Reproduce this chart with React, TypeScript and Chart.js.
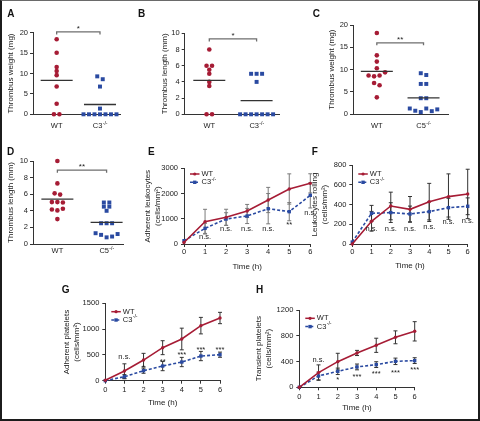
import React, { useEffect, useRef } from 'react';
import { Chart, registerables } from 'chart.js';
Chart.register(...registerables);

const W = 480;
const H = 421;
const FONT = '"Liberation Sans", Arial, Helvetica, sans-serif';
const RED = '#a61c35';
const BLUE = '#2a4aa1';
const AX = '#333333';
const TXT = '#222222';
Chart.defaults.font.family = FONT;
Chart.defaults.color = TXT;

// ---------- group names ----------
const groupWT = 'WT';
const koC3 = 'C3';
const koC5 = 'C5';
const koSup = '-/-';

// ---------- panel A: thrombus weight (mg), WT vs C3-/- ----------
const aWT = [18.4, 15.1, 11.6, 10.6, 9.6, 6.8, 2.6, 0, 0];
const aC3 = [9.3, 8.6, 6.8, 1.4, 0, 0, 0, 0, 0, 0, 0];
const aMeans = [8.3, 2.4];
const aYTicks = [0, 5, 10, 15, 20];

// ---------- panel B: thrombus length (mm), WT vs C3-/- ----------
const bWT = [8, 6, 6, 5.5, 5, 4, 3.5, 0, 0];
const bC3 = [5, 5, 5, 4, 0, 0, 0, 0, 0, 0, 0];
const bMeans = [4.2, 1.7];
const bYTicks = [0, 2, 4, 6, 8, 10];

// ---------- panel C: thrombus weight (mg), WT vs C5-/- ----------
const cWT = [18.2, 13.2, 11.8, 10.3, 8.7, 8.5, 8.7, 9.4, 7.0, 6.5, 3.8];
const cC5 = [9.2, 8.8, 6.8, 6.8, 3.6, 3.6, 1.3, 0.8, 0.5, 1.3, 0.7, 1.1];
const cMeans = [9.6, 3.7];
const cYTicks = [0, 5, 10, 15, 20];

// ---------- panel D: thrombus length (mm), WT vs C5-/- ----------
const dWT = [10, 7.3, 6.1, 5.95, 5.05, 5.05, 5.0, 4.15, 4.05, 4.25, 3.0];
const dC5 = [5, 5, 4.5, 4.5, 4.0, 2.5, 2.5, 2.5, 1.3, 1.1, 0.8, 0.9, 1.2];
const dMeans = [5.4, 2.6];
const dYTicks = [0, 2, 4, 6, 8, 10];

// ---------- time courses ----------
const timeHours = [0, 1, 2, 3, 4, 5, 6];

const eWT = [60, 885, 1057, 1308, 1744, 2180, 2404];
const eC3 = [130, 620, 990, 1110, 1400, 1281, 1929];
const eWTErr = [0, 490, 320, 260, 500, 600, 380];
const eC3Err = [0, 200, 250, 300, 600, 360, 500];
const eSig = ['', 'n.s.', 'n.s.', 'n.s.', 'n.s.', '**', 'n.s.'];
const eSigY = [0, 265, 580, 580, 580, 829, 1224];
const eYTicks = [0, 1000, 2000, 3000];

const fWT = [0, 230, 385, 351, 429, 480, 507];
const fC3 = [20, 311, 318, 304, 328, 368, 382];
const fWTErr = [0, 100, 140, 130, 185, 230, 250];
const fC3Err = [0, 80, 100, 80, 100, 95, 85];
const fSig = ['', 'n.s.', 'n.s.', 'n.s.', 'n.s.', 'n.s.', 'n.s.'];
const fSigY = [0, 149, 149, 149, 175, 223, 236];
const fYTicks = [0, 200, 400, 600, 800];

const gWT = [10, 187, 400, 640, 808, 1067, 1215];
const gC3 = [0, 78, 194, 284, 362, 478, 504];
const gWTErr = [0, 140, 130, 135, 210, 160, 110];
const gC3Err = [0, 40, 50, 90, 90, 90, 50];
const gSig = ['', 'n.s.', '*', '**', '***', '***', '***'];
const gSigY = [0, 465, 290, 415, 543, 640, 640];
const gYTicks = [0, 500, 1000, 1500];

const hWT = [0, 228, 398, 533, 652, 776, 869];
const hC3 = [0, 176, 248, 316, 352, 403, 414];
const hWTErr = [0, 120, 130, 40, 110, 100, 150];
const hC3Err = [0, 60, 50, 45, 45, 50, 45];
const hSig = ['', 'n.s.', '*', '***', '***', '***', '***'];
const hSigY = [0, 424, 155, 202, 242, 264, 300];
const hYTicks = [0, 400, 800, 1200];

// ---------- helpers ----------
function swarm(vals: number[], center: number, step: number, tol: number) {
  const idx = vals.map((_, i) => i).sort((a, b) => vals[b] - vals[a]);
  const pts: { x: number; y: number }[] = new Array(vals.length);
  let i = 0;
  while (i < idx.length) {
    let j = i + 1;
    while (j < idx.length && vals[idx[j - 1]] - vals[idx[j]] <= tol) j++;
    const grp = idx.slice(i, j).sort((a, b) => a - b);
    grp.forEach((k, n) => {
      pts[k] = { x: center + (n - (grp.length - 1) / 2) * step, y: vals[k] };
    });
    i = j;
  }
  return pts;
}

function drawSup(ctx: CanvasRenderingContext2D, base: string, sup: string, x: number, y: number, align: 'left' | 'center', size = 7.5) {
  ctx.font = `${size}px ${FONT}`;
  const wb = ctx.measureText(base).width;
  ctx.font = `${size * 0.68}px ${FONT}`;
  const ws = ctx.measureText(sup).width;
  const x0 = align === 'center' ? x - (wb + ws) / 2 : x;
  ctx.textAlign = 'left';
  ctx.font = `${size}px ${FONT}`;
  ctx.fillText(base, x0, y);
  ctx.font = `${size * 0.68}px ${FONT}`;
  ctx.fillText(sup, x0 + wb + 0.3, y - 3);
}

type Area = { l: number; t: number; r: number; b: number };

type ScatterPanel = {
  wt: number[]; ko: number[]; means: number[]; koName: string; yTicks: number[];
  yTitle: string; sigText: string; sigLevel: number; area: Area; centers: [number, number];
  titleX: number; labelBase: number;
};

type LinePanel = {
  wt: number[]; ko: number[]; wtErr: number[]; koErr: number[]; sig: string[]; sigY: number[];
  yTicks: number[]; yTitle: string[]; area: Area; titleX: number; xTickY: number; xTitleY: number;
  legendY: number; errColor: string;
};

const scatterPanels: ScatterPanel[] = [
  { wt: aWT, ko: aC3, means: aMeans, koName: koC3, yTicks: aYTicks, yTitle: 'Thrombus weight (mg)', sigText: '*', sigLevel: 20.2,
    area: { l: 33, t: 32.7, r: 120, b: 114.3 }, centers: [0.272, 0.77], titleX: 11, labelBase: 128 },
  { wt: bWT, ko: bC3, means: bMeans, koName: koC3, yTicks: bYTicks, yTitle: 'Thrombus length (mm)', sigText: '*', sigLevel: 9.3,
    area: { l: 184.7, t: 33.3, r: 279.3, b: 114.3 }, centers: [0.26, 0.76], titleX: 165, labelBase: 128 },
  { wt: cWT, ko: cC5, means: cMeans, koName: koC5, yTicks: cYTicks, yTitle: 'Thrombus weight (mg)', sigText: '**', sigLevel: 16,
    area: { l: 353, t: 25, r: 448.3, b: 114.3 }, centers: [0.25, 0.74], titleX: 331.5, labelBase: 128 },
  { wt: dWT, ko: dC5, means: dMeans, koName: koC5, yTicks: dYTicks, yTitle: 'Thrombus length (mm)', sigText: '**', sigLevel: 8.9,
    area: { l: 33, t: 161, r: 123.3, b: 244 }, centers: [0.27, 0.815], titleX: 11, labelBase: 252.7 },
];

const linePanels: LinePanel[] = [
  { wt: eWT, ko: eC3, wtErr: eWTErr, koErr: eC3Err, sig: eSig, sigY: eSigY, yTicks: eYTicks,
    yTitle: ['Adherent leukocytes', '(cells/mm²)'], area: { l: 184, t: 168.3, r: 310.3, b: 244 },
    titleX: 148, xTickY: 252.3, xTitleY: 266.7, legendY: 174, errColor: '#7a7a7a' },
  { wt: fWT, ko: fC3, wtErr: fWTErr, koErr: fC3Err, sig: fSig, sigY: fSigY, yTicks: fYTicks,
    yTitle: ['Leukocytes rolling', '(cells/mm²)'], area: { l: 352.3, t: 165, r: 467.7, b: 244 },
    titleX: 314.5, xTickY: 252.3, xTitleY: 266, legendY: 174, errColor: '#333333' },
  { wt: gWT, ko: gC3, wtErr: gWTErr, koErr: gC3Err, sig: gSig, sigY: gSigY, yTicks: gYTicks,
    yTitle: ['Adherent platelets', '(cells/mm²)'], area: { l: 105.3, t: 303.3, r: 220, b: 380.7 },
    titleX: 67, xTickY: 390, xTitleY: 402.3, legendY: 311.7, errColor: '#333333' },
  { wt: hWT, ko: hC3, wtErr: hWTErr, koErr: hC3Err, sig: hSig, sigY: hSigY, yTicks: hYTicks,
    yTitle: ['Transient platelets', '(cells/mm²)'], area: { l: 299.3, t: 310, r: 414.7, b: 387.3 },
    titleX: 258.5, xTickY: 397.3, xTitleY: 407.7, legendY: 318.3, errColor: '#333333' },
];

const letters = [
  { t: 'A', x: 7.3, y: 10 }, { t: 'B', x: 138, y: 10 }, { t: 'C', x: 312.7, y: 10 },
  { t: 'D', x: 7, y: 148 }, { t: 'E', x: 148, y: 148 }, { t: 'F', x: 311.7, y: 148 },
  { t: 'G', x: 61.7, y: 286.7 }, { t: 'H', x: 256, y: 286.7 },
];

function yAxisCommon(ticks: number[], width: number) {
  return {
    min: ticks[0],
    max: ticks[ticks.length - 1],
    afterBuildTicks: (s: any) => { s.ticks = ticks.map((v) => ({ value: v })); },
    ticks: { font: { size: 7.5 }, padding: 2, color: TXT, callback: (v: any) => String(v) },
    grid: { drawOnChartArea: false, drawTicks: true, tickLength: 3, color: AX },
    border: { display: true, color: AX, width: 1 },
    afterFit: (s: any) => { s.width = width; },
  };
}

function makeScatter(canvas: HTMLCanvasElement, p: ScatterPanel) {
  const { l, t, r, b } = p.area;
  const yMax = p.yTicks[p.yTicks.length - 1];
  const unit = 1 / (r - l);
  const step = 5.5 * unit;
  const tol = yMax * 0.04;
  const half = 16 * unit;
  const wtPts = swarm(p.wt, p.centers[0], step, tol);
  const koPts = swarm(p.ko, p.centers[1], step, tol);
  const meanLine = (c: number, m: number) => [{ x: c - half, y: m }, { x: c + half, y: m }];
  const padLeft = p.titleX - 4.8;
  const extras = {
    id: 'scatterExtras',
    afterDraw(chart: any) {
      const ctx = chart.ctx as CanvasRenderingContext2D;
      const xs = chart.scales.x;
      const ys = chart.scales.y;
      const x1 = xs.getPixelForValue(p.centers[0]);
      const x2 = xs.getPixelForValue(p.centers[1]);
      const y = ys.getPixelForValue(p.sigLevel);
      ctx.save();
      ctx.strokeStyle = '#6e6e6e';
      ctx.lineWidth = 1.3;
      ctx.beginPath();
      ctx.moveTo(x1, y + 2.5); ctx.lineTo(x1, y); ctx.lineTo(x2, y); ctx.lineTo(x2, y + 2.5);
      ctx.stroke();
      ctx.fillStyle = TXT;
      ctx.font = `8px ${FONT}`;
      ctx.textAlign = 'center';
      ctx.textBaseline = 'alphabetic';
      ctx.fillText(p.sigText, (x1 + x2) / 2, y - 1);
      ctx.font = `7.5px ${FONT}`;
      ctx.fillText(groupWT, x1, p.labelBase);
      drawSup(ctx, p.koName, koSup, x2, p.labelBase, 'center');
      ctx.restore();
    },
  };
  return new Chart(canvas, {
    type: 'scatter',
    data: {
      datasets: [
        { data: meanLine(p.centers[0], p.means[0]), showLine: true, borderColor: AX, borderWidth: 1.3, pointRadius: 0, clip: false } as any,
        { data: meanLine(p.centers[1], p.means[1]), showLine: true, borderColor: AX, borderWidth: 1.3, pointRadius: 0, clip: false } as any,
        { data: wtPts, pointStyle: 'circle', pointRadius: 2.3, pointBorderWidth: 0, backgroundColor: RED, borderColor: RED, clip: false } as any,
        { data: koPts, pointStyle: 'rect', pointRadius: 2.8, pointBorderWidth: 0, backgroundColor: BLUE, borderColor: BLUE, clip: false } as any,
      ],
    },
    options: {
      animation: false,
      responsive: false,
      devicePixelRatio: 1,
      events: [],
      layout: { padding: { left: padLeft, top: t, right: W - r, bottom: H - b - 20 } },
      plugins: { legend: { display: false }, tooltip: { enabled: false } },
      scales: {
        x: {
          type: 'linear', min: 0, max: 1,
          ticks: { display: false },
          grid: { display: false },
          border: { display: true, color: AX, width: 1 },
          afterFit: (s: any) => { s.height = 20; },
        } as any,
        y: {
          ...yAxisCommon(p.yTicks, l - padLeft),
          title: { display: true, text: p.yTitle, font: { size: 8 }, padding: 0, color: TXT },
        } as any,
      },
    },
    plugins: [extras],
  });
}

function makeLine(canvas: HTMLCanvasElement, p: LinePanel) {
  const { l, t, r, b } = p.area;
  const padLeft = p.titleX - 5;
  const bottomEdge = p.xTitleY + 5;
  const extras = {
    id: 'lineExtras',
    beforeDatasetsDraw(chart: any) {
      const ctx = chart.ctx as CanvasRenderingContext2D;
      const xs = chart.scales.x;
      const ys = chart.scales.y;
      ctx.save();
      ctx.strokeStyle = p.errColor;
      ctx.lineWidth = 1;
      const series: [number[], number[]][] = [[p.wt, p.wtErr], [p.ko, p.koErr]];
      series.forEach(([vals, errs]) => {
        timeHours.forEach((tt, i) => {
          const e = errs[i];
          if (!e) return;
          const x = xs.getPixelForValue(tt);
          const y1 = ys.getPixelForValue(vals[i] + e);
          const y2 = ys.getPixelForValue(vals[i] - e);
          ctx.beginPath();
          ctx.moveTo(x, y1); ctx.lineTo(x, y2);
          ctx.moveTo(x - 2, y1); ctx.lineTo(x + 2, y1);
          ctx.moveTo(x - 2, y2); ctx.lineTo(x + 2, y2);
          ctx.stroke();
        });
      });
      ctx.restore();
    },
    afterDraw(chart: any) {
      const ctx = chart.ctx as CanvasRenderingContext2D;
      const xs = chart.scales.x;
      const ys = chart.scales.y;
      ctx.save();
      ctx.fillStyle = TXT;
      ctx.textAlign = 'center';
      ctx.textBaseline = 'alphabetic';
      ctx.font = `7.5px ${FONT}`;
      p.sig.forEach((s, i) => {
        if (!s) return;
        const star = s.indexOf('*') >= 0;
        const x = xs.getPixelForValue(timeHours[i]);
        const y = ys.getPixelForValue(p.sigY[i]);
        ctx.fillText(s, x, y + (star ? 4.3 : 2.0));
      });
      // legend
      const lx = chart.chartArea.left;
      const rows = [
        { name: groupWT, color: RED, dash: [] as number[], style: 'circle' },
        { name: koC3, color: BLUE, dash: [3, 2], style: 'rect' },
      ];
      rows.forEach((row, i) => {
        const y = p.legendY + i * 8.3;
        ctx.strokeStyle = row.color;
        ctx.fillStyle = row.color;
        ctx.lineWidth = 1.5;
        ctx.setLineDash(row.dash);
        ctx.beginPath();
        ctx.moveTo(lx + 6, y); ctx.lineTo(lx + 15.5, y);
        ctx.stroke();
        ctx.setLineDash([]);
        const mx = lx + 10.75;
        if (row.style === 'circle') {
          ctx.beginPath(); ctx.arc(mx, y, 1.6, 0, Math.PI * 2); ctx.fill();
        } else {
          ctx.fillRect(mx - 1.7, y - 1.7, 3.4, 3.4);
        }
        ctx.fillStyle = TXT;
        ctx.textBaseline = 'middle';
        if (i === 0) {
          ctx.font = `7.5px ${FONT}`;
          ctx.textAlign = 'left';
          ctx.fillText(row.name, lx + 17.5, y);
        } else {
          drawSup(ctx, row.name, koSup, lx + 17.5, y, 'left');
        }
      });
      ctx.restore();
    },
  };
  return new Chart(canvas, {
    type: 'line',
    data: {
      datasets: [
        { data: timeHours.map((x, i) => ({ x, y: p.wt[i] })), borderColor: RED, backgroundColor: RED, borderWidth: 1.6,
          pointStyle: 'circle', pointRadius: 1.7, pointBorderWidth: 0, tension: 0, clip: false } as any,
        { data: timeHours.map((x, i) => ({ x, y: p.ko[i] })), borderColor: BLUE, backgroundColor: BLUE, borderWidth: 1.6,
          borderDash: [3, 2], pointStyle: 'rect', pointRadius: 2.4, pointBorderWidth: 0, tension: 0, clip: false } as any,
      ],
    },
    options: {
      animation: false,
      responsive: false,
      devicePixelRatio: 1,
      events: [],
      layout: { padding: { left: padLeft, top: t, right: W - r, bottom: H - bottomEdge } },
      plugins: { legend: { display: false }, tooltip: { enabled: false } },
      scales: {
        x: {
          type: 'linear', min: 0, max: 6,
          afterBuildTicks: (s: any) => { s.ticks = timeHours.map((v) => ({ value: v })); },
          ticks: { font: { size: 7.5 }, padding: p.xTickY - b - 7.5, color: TXT, maxRotation: 0, autoSkip: false, callback: (v: any) => String(v) },
          grid: { drawOnChartArea: false, drawTicks: true, tickLength: 3, color: AX },
          border: { display: true, color: AX, width: 1 },
          title: { display: true, text: 'Time (h)', font: { size: 8, lineHeight: 1.25 }, padding: 0, color: TXT },
          afterFit: (s: any) => { s.height = bottomEdge - b; },
        } as any,
        y: {
          ...yAxisCommon(p.yTicks, l - padLeft),
          ticks: { font: { size: 7.5 }, padding: 3, color: TXT, callback: (v: any) => String(v) },
          title: { display: true, text: p.yTitle, font: { size: 8, lineHeight: 1.25 }, padding: 0, color: TXT },
        } as any,
      },
    },
    plugins: [extras],
  });
}

function ChartCanvas({ make }: { make: (c: HTMLCanvasElement) => Chart }) {
  const ref = useRef<HTMLCanvasElement>(null);
  useEffect(() => {
    const ch = make(ref.current!);
    return () => ch.destroy();
  }, []);
  return (
    <canvas ref={ref} width={W} height={H}
      style={{ position: 'absolute', left: 0, top: 0, width: W, height: H }} />
  );
}

export default function App() {
  return (
    <div style={{ position: 'fixed', left: 0, top: 0, width: W, height: H, background: '#fff', overflow: 'hidden' }}>
      {scatterPanels.map((p, i) => (
        <ChartCanvas key={'s' + i} make={(c) => makeScatter(c, p)} />
      ))}
      {linePanels.map((p, i) => (
        <ChartCanvas key={'l' + i} make={(c) => makeLine(c, p)} />
      ))}
      {letters.map((L) => (
        <div key={L.t} style={{ position: 'absolute', left: L.x, top: L.y - 1.3, fontFamily: FONT, fontWeight: 'bold',
          fontSize: 10, lineHeight: '10px', color: '#111' }}>{L.t}</div>
      ))}
      <div style={{ position: 'absolute', left: 0, top: 0, width: W, height: H, boxSizing: 'border-box',
        borderLeft: '2px solid #1c1c1c', borderRight: '2px solid #1c1c1c', borderBottom: '2px solid #1c1c1c',
        borderTop: '1px solid #6a6a6a', pointerEvents: 'none' }} />
    </div>
  );
}
